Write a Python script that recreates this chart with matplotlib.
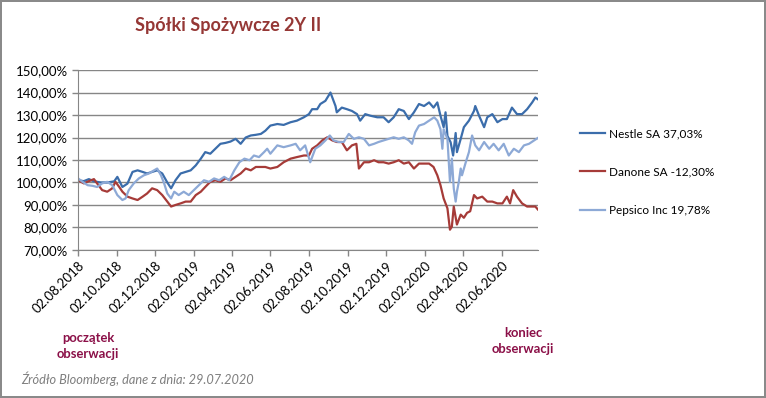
import matplotlib
matplotlib.use("Agg")
import matplotlib.pyplot as plt
import matplotlib.dates as mdates
import numpy as np
import pandas as pd
from matplotlib.ticker import FuncFormatter

# values, day offsets from 02.08.2018
start = pd.Timestamp("2018-08-02")

nestle_days = [0, 9, 17, 25, 36, 46, 57, 62, 70, 78, 86, 94, 102, 109, 117, 125, 133, 141, 147, 154,
               162, 170, 178, 186, 194, 201, 209, 217, 225, 233, 241, 249, 257, 265, 273, 281, 289, 296,
               304, 315, 325, 336, 346, 357, 365, 370, 378, 383, 391, 399, 407, 409, 417, 425, 433, 441,
               446, 454, 462, 473, 483, 491, 499, 507, 515, 523, 531, 539, 547, 555, 562, 568, 573, 578,
               581, 584, 589, 593, 597, 599, 605, 610, 618, 626, 628, 634, 642, 647, 655, 663, 671, 678,
               686, 694, 702, 710, 718, 723, 727]
nestle = [101, 100.6, 101.5, 100.5, 100, 100, 100.5, 102.5, 98, 99.5, 104.7, 105.4, 104.7, 104, 104.7,
          105.4, 104, 100, 97.4, 101, 104, 104.7, 105.4, 107.6, 110.6, 113.5, 112.8, 115, 117.2, 117.6,
          118.2, 119.4, 117.2, 120, 120.9, 121.2, 121.6, 123,
          125.3, 126, 125.6, 126.8, 127.5, 129, 130.4, 132.6, 132.6, 134.9, 136.3, 140, 134, 131.2, 133.3,
          132.6, 131.8, 130.4, 127.5, 130.4, 129.7, 129, 129, 126.8, 129, 132.6, 131.8, 128.2, 131.2, 134.9,
          134, 135.6, 133.3, 135.6, 129.7, 124.6, 131.2, 120.7, 117.9, 112, 122, 113.5, 119.4, 124.6, 127.5,
          131.8, 134, 129.7, 124.6, 129, 130.4, 126.8, 128.2, 128.2, 133.3, 130.4, 130.4, 132.6, 135.6,
          137.8, 137.0]

danone_days = [0, 9, 17, 25, 30, 38, 46, 54, 59, 65, 70, 78, 86, 94, 102, 109, 117, 125, 133, 141,
               147, 154, 162, 170, 178, 186, 194, 201, 209, 217, 225, 233, 241, 249, 257, 265, 273, 281,
               289, 296,
               304, 315, 325, 336, 346, 357, 365, 370, 378, 386, 394, 402, 409, 417, 425, 433, 440, 444,
               452, 460, 468, 475, 483, 491, 499, 507, 515, 523, 531, 539, 547, 555, 562, 568, 573, 578,
               584, 588, 591, 594, 599, 605, 610, 615, 620, 626, 631, 639, 647, 655, 663, 671, 678, 683,
               688, 694, 702, 710, 718, 723, 727]
danone = [101, 99.6, 100.6, 101.5, 99.6, 96.6, 95.9, 97.4, 100.3, 98, 95.9, 93.7, 92.9, 92.2, 93.7,
          95.1, 97.4, 96.6, 94.4, 91.5, 89.3, 90, 90.7, 91.5, 91.5, 94.4, 95.9, 98, 100.3, 101, 100.3,
          101.8, 101, 102.5, 104, 106.2, 105.4, 106.9, 106.9, 106.9,
          106.2, 106.9, 109, 110.6, 111.3, 112, 112, 115, 116.5, 118.7, 120.1, 118.7, 118, 118, 114.3,
          116.5, 117.2, 106.2, 109, 109, 109.9, 109, 109, 108.4, 109, 109.9, 108.4, 109, 106.2, 108.4,
          108.4, 108.4, 106.9, 103.2, 98.8, 92.9, 88.5, 79, 80.4, 89.3, 81.3, 85.7, 84.3, 86.5, 87.2,
          94.4, 92.9, 93.7, 91.5, 91.5, 90.7, 90.7, 93.7, 90.7, 96.6, 93.7, 90.7, 89.3, 89.3, 89.3, 88.0]

pepsico_days = [0, 7, 15, 23, 30, 38, 46, 54, 62, 70, 75, 80, 88, 96, 104, 112, 120, 125, 131, 136,
                141, 147, 152, 159, 167, 175, 183, 191, 199, 207, 215, 223, 231, 239, 247, 255, 263, 271,
                278, 286, 294, 299,
                304, 315, 325, 336, 344, 351, 359, 367, 375, 383, 391, 398, 404, 412, 420, 428, 436, 444,
                452, 460, 468, 475, 483, 491, 499, 507, 515, 523, 528, 533, 539, 547, 555, 563, 568, 573,
                576, 578, 584, 588, 591, 594, 597, 599, 602, 605, 607, 613, 618, 623, 628, 634, 642, 650,
                657, 665, 673, 681, 689, 697, 705, 713, 721, 727]
pepsico = [101.8, 100.3, 98.8, 98.5, 98, 99.6, 100.3, 98.8, 94.4, 92.2, 92.9, 96.6, 99.6, 101.8, 103.2,
           104, 105.4, 106.2, 103.2, 99.6, 95.1, 92.9, 95.9, 94.4, 95.9, 94.4, 96.6, 98.8, 101, 100.3,
           101.8, 101, 102.5, 101, 105.4, 109, 110.6, 109.9, 112, 111.3, 113.5, 115,
           112.8, 116.5, 115.7, 116.5, 117.2, 114.3, 116.5, 109, 115, 116.5, 118.7, 120.9, 118.7, 118, 118,
           121.6, 119.4, 120.1, 119.4, 116.5, 117.2, 118, 118.7, 119.4, 120.1, 119.4, 120.1, 118.7, 117.2,
           122.3, 125.3, 126, 127.5, 129, 127.5, 123.7, 115, 123.7, 119.4, 100.3, 110.6, 97.4, 91.5, 95.9,
           100.3, 106.2, 103.2, 109, 113.5, 120.9, 116.5, 114.3, 118, 115, 117.2, 114.3, 117.2, 112, 115,
           113.5, 116.5, 117.2, 118.7, 119.8]

labels = ["Nestle SA 37,03%", "Danone SA -12,30%", "Pepsico Inc 19,78%"]
colors = ["#3B6DAB", "#A63B38", "#8DA9D6"]

plt.rcParams['font.family'] = ['Lato', 'DejaVu Sans']

fig = plt.figure(figsize=(7.66, 3.98), dpi=100)
fig.patch.set_edgecolor("#8a8a8a")
fig.patch.set_linewidth(1.5)
ax = fig.add_axes([0.102, 0.372, 0.601, 0.452])

series = [(nestle_days, nestle), (danone_days, danone), (pepsico_days, pepsico)]
for (d, v), lab, c in zip(series, labels, colors):
    dates = start + pd.to_timedelta(d, unit="D")
    ax.plot(dates, v, color=c, lw=1.6, label=lab)

ax.set_ylim(70, 150)
ax.set_yticks(np.arange(70, 151, 10))
ax.yaxis.set_major_formatter(FuncFormatter(lambda v, p: f"{v:.2f}%".replace(".", ",")))
ax.set_xlim(start, pd.Timestamp("2020-07-30"))
xt = pd.date_range("2018-08-01", "2020-06-02", freq="2MS") + pd.Timedelta(days=1)
ax.set_xticks(xt)
ax.xaxis.set_major_formatter(mdates.DateFormatter("%d.%m.%Y"))
plt.setp(ax.get_xticklabels(), rotation=45, ha="right", rotation_mode="anchor")
ax.tick_params(axis="both", labelsize=9.5, colors="#868686", labelcolor="black", length=4, width=1)
ax.tick_params(axis="x", pad=3)

ax.grid(axis="y", color="#868686", lw=1)
for s in ["top", "right"]:
    ax.spines[s].set_visible(False)
for s in ["left", "bottom"]:
    ax.spines[s].set_color("#868686")

ax.legend(loc="center left", bbox_to_anchor=(580 / 766, 1 - 172 / 398), bbox_transform=fig.transFigure,
          frameon=False, fontsize=8.5, borderpad=0, borderaxespad=0,
          labelspacing=2.33, handlelength=2.1, handletextpad=0.35)

fig.text(0.298, 0.935, "Spółki Spożywcze 2Y II", fontsize=13, fontweight="bold",
         family=['Liberation Sans Narrow', 'Lato'], color="#953735", ha="center", va="center")
fig.text(88 / 766, 1 - 346 / 398, "początek\nobserwacji", fontsize=9.4, fontweight="bold",
         color="#8B1048", ha="center", va="center", linespacing=1.35)
fig.text(523 / 766, 1 - 341 / 398, "koniec\nobserwacji", fontsize=9.4, fontweight="bold",
         color="#8B1048", ha="center", va="center", linespacing=1.35)
fig.text(21 / 766, 1 - 379 / 398, "Źródło Bloomberg, dane z dnia: 29.07.2020", fontsize=9.2,
         style="italic", color="#7f7f7f", ha="left", va="center")

fig.savefig("out.png", dpi=100, edgecolor=fig.get_edgecolor())
